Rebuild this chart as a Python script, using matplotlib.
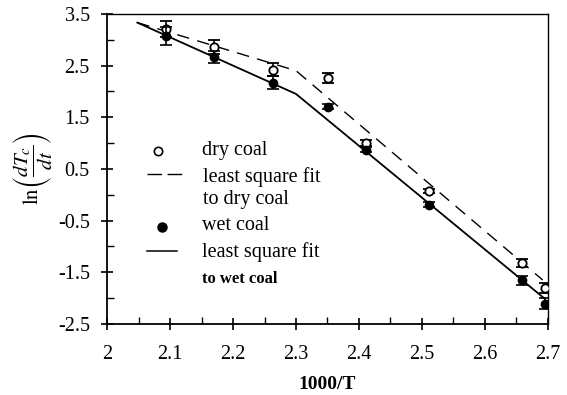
import matplotlib
matplotlib.use("Agg")
import matplotlib.pyplot as plt

plt.rcParams["font.family"] = ["Liberation Serif", "DejaVu Serif"]
plt.rcParams["mathtext.fontset"] = "stix"

# Measured points (1000/T vs ln(dTc/dt))
x_pts = [2.094, 2.170, 2.264, 2.351, 2.411, 2.511, 2.659, 2.695]
dry_y = [3.21, 2.86, 2.42, 2.26, 1.00, 0.08, -1.32, -1.80]
dry_err = [0.16, 0.14, 0.13, 0.10, 0.06, 0.04, 0.08, 0.10]
wet_y = [3.07, 2.67, 2.17, 1.70, 0.87, -0.19, -1.66, -2.11]
wet_err = [0.17, 0.12, 0.12, 0.05, 0.05, 0.04, 0.08, 0.11]

# Piecewise least-square fits (break points)
dry_fit_x = [2.048, 2.300, 2.692]
dry_fit_y = [3.33, 2.40, -1.65]
wet_fit_x = [2.048, 2.300, 2.695]
wet_fit_y = [3.33, 1.95, -2.01]

x_ticks = [2.0, 2.1, 2.2, 2.3, 2.4, 2.5, 2.6, 2.7]
x_ticklabels = ["2", "2.1", "2.2", "2.3", "2.4", "2.5", "2.6", "2.7"]
x_minor = [2.05, 2.15, 2.25, 2.35, 2.45, 2.55, 2.65]
y_ticks = [-2.5, -1.5, -0.5, 0.5, 1.5, 2.5, 3.5]
y_ticklabels = ["-2.5", "-1.5", "-0.5", "0.5", "1.5", "2.5", "3.5"]
y_minor = [-2.0, -1.0, 0.0, 1.0, 2.0, 3.0]

FS = 14.5
DASH = (0, (9, 6))

fig = plt.figure(figsize=(5.67, 3.95), dpi=100)
ax = fig.add_axes([0.189, 0.180, 0.777, 0.785])

ax.plot(dry_fit_x, dry_fit_y, color="black", lw=1.0, ls=DASH)
ax.plot(wet_fit_x, wet_fit_y, color="black", lw=1.3)

ax.errorbar(x_pts, dry_y, yerr=dry_err, fmt="o", ms=6, mfc="white",
            mec="black", mew=1.3, ecolor="black", elinewidth=1.2,
            capsize=4, capthick=1.2, zorder=3)
ax.errorbar(x_pts, wet_y, yerr=wet_err, fmt="o", ms=6, mfc="black",
            mec="black", ecolor="black", elinewidth=1.2,
            capsize=4, capthick=1.2, zorder=4)

ax.set_xlim(2.0, 2.7)
ax.set_ylim(-2.5, 3.5)
ax.set_xticks(x_ticks)
ax.set_xticklabels(x_ticklabels)
ax.set_xticks(x_minor, minor=True)
ax.set_yticks(y_ticks)
ax.set_yticklabels(y_ticklabels)
ax.set_yticks(y_minor, minor=True)
ax.tick_params(which="major", direction="inout", length=9, width=1.2,
               labelsize=FS, pad=8)
ax.tick_params(which="minor", direction="in", length=5, width=1.0)
ax.tick_params(axis="x", pad=11)
for s in ax.spines.values():
    s.set_linewidth(1.0)
ax.spines["left"].set_linewidth(1.3)
ax.spines["bottom"].set_linewidth(1.3)

ax.set_xlabel("1000/T", fontsize=14, fontweight="bold", labelpad=8)
ax.set_ylabel(r"$\mathrm{ln}\left(\dfrac{dT_c}{dt}\right)$", fontsize=15,
              labelpad=2)

# Hand-placed key
tr = ax.transAxes
ax.plot([0.116], [0.558], marker="o", ms=6, mfc="white", mec="black",
        mew=1.2, transform=tr)
ax.text(0.215, 0.558, "dry coal", transform=tr, fontsize=FS, va="center")
ax.plot([0.090, 0.170], [0.484, 0.484], color="black", lw=1.0,
        ls=(0, (10.5, 4)), transform=tr)
ax.text(0.218, 0.474, "least square fit", transform=tr, fontsize=FS,
        va="center")
ax.text(0.218, 0.400, "to dry coal", transform=tr, fontsize=FS,
        va="center")
ax.plot([0.125], [0.313], marker="o", ms=6.5, mfc="black", mec="black",
        transform=tr)
ax.text(0.215, 0.316, "wet coal", transform=tr, fontsize=FS, va="center")
ax.plot([0.090, 0.159], [0.235, 0.235], color="black", lw=1.1,
        transform=tr)
ax.text(0.215, 0.232, "least square fit", transform=tr, fontsize=FS,
        va="center")
ax.text(0.215, 0.145, "to wet coal", transform=tr, fontsize=12,
        fontweight="bold", va="center")

fig.savefig("out.png", dpi=100)
